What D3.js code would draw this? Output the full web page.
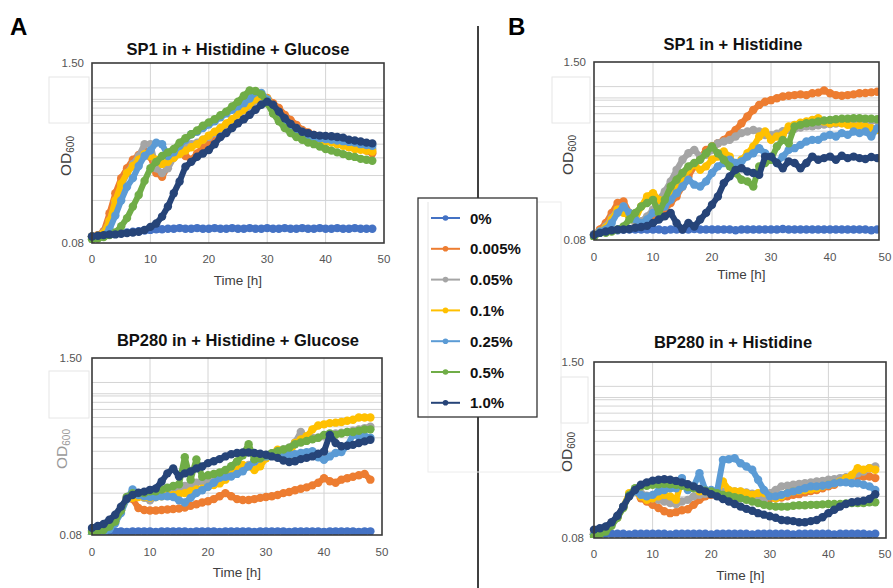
<!DOCTYPE html>
<html>
<head>
<meta charset="utf-8">
<script src="https://cdn.jsdelivr.net/npm/d3@7"></script>
<style>
  body { margin: 0; background: #fff; }
  svg { display: block; font-family: "Liberation Sans", Arial, sans-serif; }
</style>
</head>
<body>
<script>
// time points [h]
var hours = [0,1,2,3,4,5,6,7,8,9,10,11,12,13,14,15,16,17,18,19,20,21,22,23,24,25,26,27,28,29,30,31,32,33,34,35,36,37,38,39,40,41,42,43,44,45,46,47,48];
var concentrations = ["0%", "0.005%", "0.05%", "0.1%", "0.25%", "0.5%", "1.0%"];
var seriesColors = ["#4472C4", "#ED7D31", "#A5A5A5", "#FFC000", "#5B9BD5", "#70AD47", "#264478"];
var xTicks = [0, 10, 20, 30, 40, 50];
var xGrid = [10, 20, 30, 40];
var yTickLabels = ["1.50", "0.08"];
var yGrid = [0.16, 0.24, 0.32, 0.40, 0.48, 0.56, 0.64, 0.72, 0.80, 0.83, 1.0];

// OD600, SP1 in + Histidine + Glucose (one row per concentration)
var sp1Glc = [
  [.089,.090,.091,.092,.093,.094,.095,.096,.097,.098,.099,.100,.100,.101,.101,.102,.101,.101,.102,.101,.101,.102,.101,.101,.102,.101,.101,.102,.101,.101,.102,.101,.101,.102,.101,.101,.102,.101,.101,.102,.101,.101,.102,.101,.101,.102,.101,.101,.101],
  [.089,.091,.097,.13,.18,.23,.27,.31,.335,.355,.326,.25,.235,.277,.33,.355,.33,.31,.344,.384,.406,.45,.49,.533,.594,.645,.70,.76,.825,.86,.85,.78,.72,.645,.594,.548,.505,.485,.465,.453,.44,.43,.417,.405,.395,.385,.372,.36,.345],
  [.089,.09,.095,.115,.155,.20,.25,.29,.33,.40,.40,.27,.25,.27,.32,.36,.38,.40,.41,.43,.45,.48,.51,.55,.59,.63,.68,.73,.78,.82,.80,.73,.66,.60,.55,.52,.49,.47,.45,.44,.43,.42,.41,.40,.39,.385,.38,.375,.37],
  [.089,.09,.094,.115,.16,.21,.25,.28,.31,.34,.33,.31,.29,.30,.32,.34,.36,.38,.40,.43,.46,.49,.52,.56,.60,.65,.70,.76,.83,.88,.84,.74,.66,.60,.55,.51,.48,.46,.44,.43,.42,.41,.40,.39,.38,.37,.365,.36,.355],
  [.089,.089,.09,.10,.125,.16,.20,.23,.28,.33,.36,.41,.40,.33,.35,.39,.43,.47,.49,.52,.55,.58,.62,.66,.70,.74,.78,.84,.93,.92,.83,.72,.64,.58,.53,.49,.47,.455,.445,.44,.435,.43,.425,.42,.415,.41,.40,.395,.39],
  [.085,.086,.088,.091,.095,.105,.12,.145,.175,.22,.27,.30,.33,.35,.37,.41,.44,.47,.50,.54,.57,.60,.64,.68,.74,.80,.88,.96,.95,.90,.78,.66,.58,.52,.48,.45,.43,.41,.40,.385,.37,.36,.35,.34,.33,.325,.315,.31,.305],
  [.089,.090,.091,.092,.092,.093,.094,.095,.096,.099,.104,.110,.123,.145,.180,.218,.277,.30,.326,.344,.364,.40,.45,.48,.52,.563,.60,.645,.70,.76,.80,.76,.68,.61,.557,.52,.49,.478,.465,.46,.458,.455,.45,.445,.43,.425,.418,.41,.405]
];

// OD600, BP280 in + Histidine + Glucose
var bp280Glc = [
  [.086,.086,.085,.085,.085,.085,.084,.085,.085,.085,.085,.084,.085,.085,.085,.085,.085,.084,.085,.085,.085,.085,.084,.085,.085,.085,.085,.085,.084,.085,.085,.085,.085,.085,.084,.085,.085,.085,.085,.085,.084,.085,.085,.085,.085,.085,.084,.085,.085],
  [.08,.082,.086,.094,.106,.124,.145,.145,.125,.121,.120,.120,.121,.122,.123,.124,.126,.130,.133,.137,.14,.145,.152,.16,.152,.145,.143,.143,.145,.148,.15,.152,.155,.16,.163,.168,.172,.176,.182,.19,.205,.195,.19,.20,.205,.21,.215,.22,.20],
  [.08,.081,.084,.09,.10,.12,.15,.158,.155,.148,.142,.15,.16,.165,.17,.175,.18,.185,.19,.195,.20,.205,.21,.22,.225,.23,.24,.255,.27,.285,.30,.31,.32,.33,.34,.37,.44,.40,.40,.40,.41,.42,.43,.435,.44,.45,.46,.47,.48],
  [.08,.081,.084,.09,.10,.12,.145,.148,.15,.15,.148,.15,.152,.155,.155,.158,.16,.165,.17,.172,.178,.183,.188,.20,.216,.235,.255,.25,.235,.25,.285,.30,.329,.31,.294,.368,.389,.41,.46,.49,.50,.51,.514,.52,.53,.54,.56,.56,.56],
  [.08,.081,.083,.088,.097,.115,.145,.17,.155,.152,.15,.15,.152,.152,.15,.142,.137,.148,.16,.168,.178,.19,.206,.21,.211,.22,.23,.25,.27,.285,.294,.30,.311,.305,.302,.305,.311,.315,.32,.29,.278,.294,.311,.316,.35,.42,.41,.41,.40],
  [.084,.085,.087,.092,.10,.12,.15,.16,.16,.16,.165,.165,.17,.175,.18,.185,.29,.20,.28,.21,.215,.22,.225,.235,.25,.27,.30,.36,.28,.285,.30,.31,.32,.33,.34,.36,.37,.38,.39,.40,.42,.43,.42,.43,.44,.44,.45,.46,.46],
  [.090,.093,.096,.103,.112,.128,.146,.155,.161,.164,.169,.173,.194,.222,.241,.211,.222,.229,.241,.249,.263,.271,.281,.294,.305,.311,.314,.314,.311,.307,.302,.294,.287,.275,.268,.271,.281,.287,.294,.307,.319,.42,.367,.348,.351,.356,.367,.377,.387]
];

// OD600, SP1 in + Histidine
var sp1His = [
  [.088,.090,.092,.093,.094,.095,.095,.095,.095,.095,.095,.095,.094,.095,.095,.095,.095,.096,.095,.095,.095,.095,.095,.095,.094,.095,.095,.095,.095,.095,.095,.095,.096,.095,.095,.095,.095,.095,.095,.095,.095,.095,.095,.095,.095,.095,.095,.094,.095],
  [.087,.095,.106,.125,.147,.151,.125,.109,.106,.112,.118,.125,.132,.147,.164,.193,.228,.269,.308,.353,.373,.394,.416,.452,.49,.547,.611,.68,.74,.78,.80,.826,.85,.86,.87,.88,.87,.896,.906,.937,.896,.87,.86,.87,.88,.896,.90,.91,.92],
  [.087,.092,.100,.115,.132,.139,.118,.106,.109,.118,.132,.155,.178,.21,.254,.30,.334,.353,.316,.325,.353,.394,.405,.416,.44,.465,.477,.49,.477,.45,.45,.46,.48,.49,.50,.51,.52,.52,.53,.535,.54,.545,.55,.555,.56,.565,.57,.57,.57],
  [.087,.092,.098,.112,.132,.125,.118,.112,.139,.164,.173,.155,.147,.173,.193,.216,.254,.276,.254,.269,.30,.316,.344,.316,.269,.30,.334,.373,.44,.477,.416,.44,.452,.518,.533,.553,.563,.578,.594,.563,.547,.553,.547,.533,.518,.525,.518,.504,.49],
  [.087,.092,.095,.106,.125,.139,.125,.112,.106,.112,.125,.132,.139,.155,.173,.193,.216,.199,.193,.21,.241,.269,.284,.30,.284,.292,.316,.334,.363,.334,.30,.284,.316,.353,.363,.383,.405,.416,.416,.44,.452,.44,.465,.452,.477,.465,.477,.44,.504],
  [.084,.090,.090,.092,.095,.100,.112,.125,.139,.147,.155,.125,.155,.193,.216,.241,.269,.284,.30,.334,.373,.334,.30,.269,.241,.216,.21,.193,.269,.284,.30,.373,.416,.394,.518,.533,.547,.553,.563,.572,.578,.585,.59,.59,.594,.594,.59,.59,.585],
  [.087,.090,.092,.094,.095,.095,.096,.098,.099,.101,.106,.112,.118,.125,.106,.095,.106,.100,.112,.125,.143,.164,.204,.228,.254,.261,.247,.241,.234,.316,.316,.284,.261,.292,.284,.261,.284,.316,.30,.308,.316,.30,.32,.308,.316,.308,.304,.314,.308]
];

// OD600, BP280 in + Histidine
var bp280His = [
  [.085,.086,.086,.086,.086,.086,.085,.086,.086,.086,.086,.086,.086,.085,.086,.086,.086,.086,.086,.086,.085,.086,.086,.086,.086,.086,.086,.085,.086,.086,.086,.086,.086,.086,.085,.086,.086,.086,.086,.086,.086,.085,.086,.086,.086,.086,.086,.085,.086],
  [.087,.089,.093,.103,.115,.135,.164,.178,.155,.147,.139,.132,.125,.121,.123,.127,.129,.139,.151,.160,.164,.164,.166,.169,.169,.167,.166,.164,.163,.160,.155,.155,.157,.160,.164,.166,.171,.175,.178,.183,.189,.194,.205,.217,.223,.223,.223,.223,.217],
  [.085,.087,.092,.102,.113,.134,.160,.178,.169,.162,.155,.151,.147,.143,.141,.147,.151,.160,.164,.167,.169,.171,.174,.174,.174,.173,.171,.167,.160,.151,.169,.178,.189,.191,.194,.197,.199,.202,.205,.207,.211,.213,.217,.220,.223,.235,.242,.256,.263],
  [.085,.087,.092,.102,.113,.134,.169,.174,.160,.151,.155,.160,.164,.160,.151,.211,.189,.189,.174,.174,.169,.174,.205,.178,.174,.174,.169,.164,.169,.169,.160,.155,.160,.169,.174,.176,.178,.180,.183,.189,.194,.199,.205,.217,.229,.256,.249,.256,.249],
  [.085,.087,.092,.102,.115,.135,.162,.174,.164,.160,.164,.174,.178,.183,.183,.217,.178,.189,.235,.178,.178,.174,.294,.297,.302,.278,.263,.249,.211,.178,.160,.160,.164,.169,.174,.178,.183,.189,.189,.191,.194,.199,.202,.202,.199,.199,.194,.189,.178],
  [.082,.085,.089,.098,.112,.132,.164,.183,.189,.191,.194,.196,.197,.196,.194,.191,.187,.183,.180,.176,.174,.169,.164,.162,.158,.155,.151,.147,.143,.139,.137,.135,.135,.135,.137,.138,.138,.139,.139,.140,.141,.141,.141,.142,.143,.143,.143,.145,.145],
  [.092,.094,.097,.104,.116,.135,.160,.178,.194,.202,.208,.211,.213,.211,.207,.202,.196,.189,.181,.174,.166,.160,.153,.147,.141,.135,.130,.126,.121,.118,.115,.112,.108,.107,.106,.104,.104,.106,.108,.113,.121,.128,.135,.141,.145,.147,.149,.153,.166]
];

var W = 893, H = 588;
var svg = d3.select("body").append("svg")
    .attr("width", W)
    .attr("height", H);

var panels = [
  { data: sp1Glc, title: "SP1 in + Histidine + Glucose", left: 92, right: 384, top: 63, bottom: 243, x50: 384,
    titleX: 238, titleY: 55, tickY: 263, labelY: 285, yLabX: 84, odX: 71, odY: 156, odColor: "#404040", box: [49, 77, 40, 46] },
  { data: bp280Glc, title: "BP280 in + Histidine + Glucose", left: 92, right: 382, top: 358, bottom: 535, x50: 382,
    titleX: 238, titleY: 346, tickY: 556, labelY: 577, yLabX: 82, odX: 67, odY: 449, odColor: "#9a9a9a", box: [49, 371, 40, 47] },
  { data: sp1His, title: "SP1 in + Histidine", left: 594, right: 879, top: 62, bottom: 240, x50: 889,
    titleX: 733, titleY: 50, tickY: 261, labelY: 279, yLabX: 586, odX: 573, odY: 155, odColor: "#404040", box: [552, 77, 38, 46] },
  { data: bp280His, title: "BP280 in + Histidine", left: 594, right: 886, top: 362, bottom: 538, x50: 887,
    titleX: 733, titleY: 348, tickY: 558, labelY: 580, yLabX: 584, odX: 572, odY: 452, odColor: "#404040", box: [561, 377, 27, 46] }
];

panels.forEach(function(p, pi) {
    var x = d3.scaleLinear().domain([0, 50]).range([p.left, p.x50]);
    var y = d3.scaleLog().domain([0.08, 1.5]).range([p.bottom, p.top]);

    // faint leftover box beside the y axis
    svg.append("rect")
        .attr("x", p.box[0]).attr("y", p.box[1])
        .attr("width", p.box[2]).attr("height", p.box[3])
        .attr("fill", "#fff").attr("stroke", "#e6e6e6").attr("stroke-width", 1);

    var g = svg.append("g");

    // grid
    g.selectAll("line.hg").data(yGrid).enter().append("line")
        .attr("x1", p.left).attr("x2", p.right)
        .attr("y1", function(d) { return y(d); })
        .attr("y2", function(d) { return y(d); })
        .attr("stroke", "#d4d4d4").attr("stroke-width", 1);
    g.selectAll("line.vg").data(xGrid).enter().append("line")
        .attr("x1", function(d) { return x(d); })
        .attr("x2", function(d) { return x(d); })
        .attr("y1", p.top).attr("y2", p.bottom)
        .attr("stroke", "#d4d4d4").attr("stroke-width", 1);

    // series
    var clipId = "clip" + pi;
    svg.append("clipPath").attr("id", clipId).append("rect")
        .attr("x", p.left - 5).attr("y", p.top - 4)
        .attr("width", p.right - p.left + 5).attr("height", p.bottom - p.top + 4);

    var line = d3.line()
        .x(function(d, i) { return x(hours[i]); })
        .y(function(d) { return y(d); });

    var sg = svg.append("g").attr("clip-path", "url(#" + clipId + ")");
    p.data.forEach(function(vals, si) {
        sg.append("path")
            .datum(vals)
            .attr("d", line)
            .attr("fill", "none")
            .attr("stroke", seriesColors[si])
            .attr("stroke-width", 6)
            .attr("stroke-linejoin", "round")
            .attr("stroke-linecap", "round");
        sg.selectAll("circle.s" + si).data(vals).enter().append("circle")
            .attr("cx", function(d, i) { return x(hours[i]); })
            .attr("cy", function(d) { return y(d); })
            .attr("r", 4.2)
            .attr("fill", seriesColors[si]);
    });

    // frame
    svg.append("rect")
        .attr("x", p.left).attr("y", p.top)
        .attr("width", p.right - p.left).attr("height", p.bottom - p.top)
        .attr("fill", "none").attr("stroke", "#3a3a3a").attr("stroke-width", 1.6);

    // x tick labels
    svg.selectAll("text.xt" + pi).data(xTicks).enter().append("text")
        .attr("x", function(d) { return Math.min(x(d), W - 8); })
        .attr("y", p.tickY)
        .attr("text-anchor", "middle")
        .attr("font-size", 11.5)
        .attr("fill", "#555")
        .text(function(d) { return d; });

    // y tick labels (top and bottom only)
    svg.append("text").attr("x", p.yLabX).attr("y", p.top + 4)
        .attr("text-anchor", "end").attr("font-size", 11.5).attr("fill", "#555")
        .text(yTickLabels[0]);
    svg.append("text").attr("x", p.yLabX).attr("y", p.bottom + 4)
        .attr("text-anchor", "end").attr("font-size", 11.5).attr("fill", "#555")
        .text(yTickLabels[1]);

    // titles
    svg.append("text").attr("x", p.titleX).attr("y", p.titleY)
        .attr("text-anchor", "middle").attr("font-size", 16.5).attr("font-weight", "bold")
        .attr("fill", "#111").text(p.title);
    svg.append("text").attr("x", (p.left + p.x50) / 2).attr("y", p.labelY)
        .attr("text-anchor", "middle").attr("font-size", 13.5).attr("fill", "#404040")
        .text("Time [h]");

    var od = svg.append("text")
        .attr("transform", "translate(" + p.odX + "," + p.odY + ") rotate(-90)")
        .attr("text-anchor", "middle").attr("font-size", 15.5).attr("fill", p.odColor);
    od.append("tspan").text("OD");
    od.append("tspan").attr("font-size", 10).attr("dy", 3).text("600");
});

// panel letters
svg.append("text").attr("x", 10).attr("y", 35).attr("font-size", 24)
    .attr("font-weight", "bold").attr("fill", "#000").text("A");
svg.append("text").attr("x", 508).attr("y", 35).attr("font-size", 24)
    .attr("font-weight", "bold").attr("fill", "#000").text("B");

// divider line
svg.append("line").attr("x1", 478).attr("x2", 478).attr("y1", 26).attr("y2", H)
    .attr("stroke", "#000").attr("stroke-width", 1.5);

// faint frame behind legend
svg.append("rect").attr("x", 428).attr("y", 202).attr("width", 133).attr("height", 270)
    .attr("fill", "none").attr("stroke", "#ececec").attr("stroke-width", 1);

// legend
var lg = svg.append("g");
lg.append("rect").attr("x", 418).attr("y", 198).attr("width", 119).attr("height", 219)
    .attr("fill", "#fff").attr("stroke", "#333").attr("stroke-width", 1.3);
lg.append("line").attr("x1", 428).attr("x2", 428).attr("y1", 202).attr("y2", 416)
    .attr("stroke", "#e4e4e4");
var items = lg.selectAll("g.item").data(concentrations).enter().append("g")
    .attr("transform", function(d, i) { return "translate(0," + (218 + i * 30.8) + ")"; });
items.append("line").attr("x1", 431).attr("x2", 460).attr("y1", 0).attr("y2", 0)
    .attr("stroke", function(d, i) { return seriesColors[i]; }).attr("stroke-width", 2);
items.append("circle").attr("cx", 445.5).attr("cy", 0).attr("r", 2.8)
    .attr("fill", function(d, i) { return seriesColors[i]; });
items.append("text").attr("x", 470).attr("y", 5.5).attr("font-size", 15)
    .attr("font-weight", "bold").attr("fill", "#111")
    .text(function(d) { return d; });
</script>
</body>
</html>
